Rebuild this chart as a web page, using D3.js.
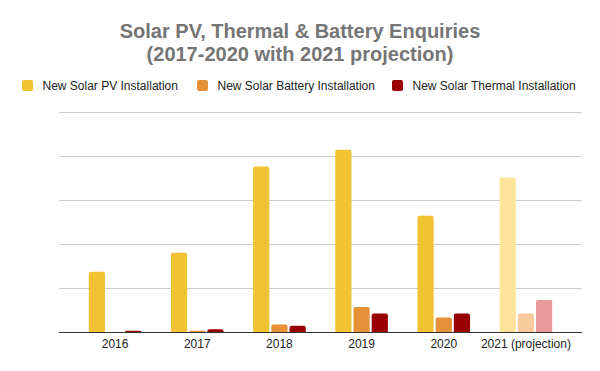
<!DOCTYPE html>
<html><head><meta charset="utf-8">
<script src="https://cdn.jsdelivr.net/npm/d3@7"></script>
<style>
body{margin:0;background:#fff;}
svg{display:block;font-family:"Liberation Sans",Arial,sans-serif;}
</style></head>
<body><svg id="c" width="600" height="371"></svg>
<script>
const categories = ["2016","2017","2018","2019","2020","2021 (projection)"];
const seriesNames = ["New Solar PV Installation","New Solar Battery Installation","New Solar Thermal Installation"];
const pvValues = [137, 180, 376, 414, 264, 351];
const batteryValues = [0, 3, 17, 57, 33, 42];
const thermalValues = [3, 6, 14, 42, 42, 73];
const yTicks = [0, 100, 200, 300, 400, 500];
const colors = ["#f1c232","#e69138","#990000"];
const projColors = ["#ffe599","#f9cb9c","#ea9999"];
const series = [pvValues, batteryValues, thermalValues];

const svg = d3.select("#c");
const W = 600, H = 371;
svg.append("rect").attr("width",W).attr("height",H).attr("fill","#fff");

// title
const title = svg.append("text").attr("text-anchor","middle").attr("fill","#757575")
  .attr("font-weight","bold").attr("font-size","20px");
title.append("tspan").attr("x",300).attr("y",38).text("Solar PV, Thermal & Battery Enquiries");
title.append("tspan").attr("x",300).attr("y",60.5).text("(2017-2020 with 2021 projection)");

// legend
const legendX = [22, 197, 392];
seriesNames.forEach((n,i)=>{
  const g = svg.append("g").attr("transform",`translate(${legendX[i]},80)`);
  g.append("rect").attr("width",11).attr("height",11).attr("rx",2).attr("fill",colors[i]);
  g.append("text").attr("x",20.5).attr("y",9.5).attr("font-size","12px").attr("fill","#222").text(n);
});

const plotL = 59, plotR = 582;
const y = d3.scaleLinear().domain([0,500]).range([332,112]);
const x0 = d3.scaleBand().domain(categories).range([74,567]).paddingInner(0.36).paddingOuter(0.18);
const x1 = d3.scaleBand().domain([0,1,2]).range([0,x0.bandwidth()]).paddingInner(0.11);

// gridlines
svg.append("g").selectAll("line").data(yTicks.slice(1)).join("line")
  .attr("x1",plotL).attr("x2",plotR).attr("y1",d=>Math.round(y(d))+0.5).attr("y2",d=>Math.round(y(d))+0.5)
  .attr("stroke","#cccccc").attr("stroke-width",1);

function barPath(x, w, top, bottom){
  const h = bottom-top; if(h<=0) return "";
  const r = Math.min(2, h, w/2);
  return `M${x},${bottom}V${top+r}Q${x},${top} ${x+r},${top}H${x+w-r}Q${x+w},${top} ${x+w},${top+r}V${bottom}Z`;
}
const bars = [];
categories.forEach((c,ci)=>{
  series.forEach((s,si)=>{
    bars.push({c, si, v:s[ci], proj: ci===categories.length-1});
  });
});
svg.append("g").selectAll("path").data(bars).join("path")
  .attr("d",d=>barPath(x0(d.c)+x1(d.si), x1.bandwidth(), y(d.v), y(0)))
  .attr("fill",d=>d.proj?projColors[d.si]:colors[d.si]);

// baseline
svg.append("line").attr("x1",plotL).attr("x2",plotR).attr("y1",332.5).attr("y2",332.5)
  .attr("stroke","#333").attr("stroke-width",1);

// x axis labels
const xAxis = d3.axisBottom(x0).tickSize(0).tickPadding(0);
const ax = svg.append("g").attr("transform","translate(0,332)").call(xAxis);
ax.select(".domain").remove();
ax.selectAll("text").attr("dy",null).attr("y",16).attr("font-size","12px")
  .attr("font-family","'Liberation Sans',Arial,sans-serif").attr("fill","#222");
</script></body></html>
